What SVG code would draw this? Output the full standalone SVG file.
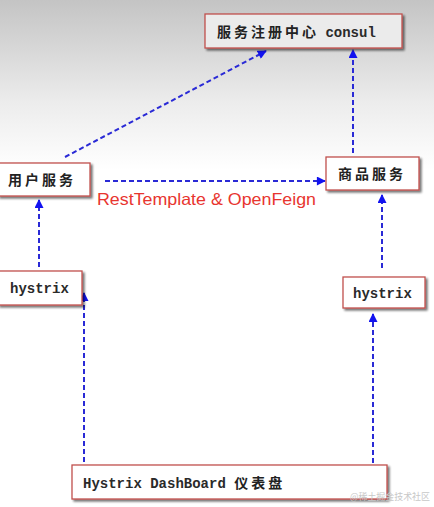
<svg xmlns="http://www.w3.org/2000/svg" width="434" height="507" viewBox="0 0 434 507">
<defs>
<linearGradient id="bg" x1="0" y1="0" x2="0" y2="1">
<stop offset="0" stop-color="#c4c4c4"/>
<stop offset="0.6" stop-color="#ececec"/>
<stop offset="1" stop-color="#ffffff"/>
</linearGradient>
<filter id="sh" x="-10%" y="-20%" width="130%" height="160%">
<feGaussianBlur in="SourceAlpha" stdDeviation="1.2"/>
<feOffset dx="2" dy="2" result="b"/>
<feComponentTransfer><feFuncA type="linear" slope="0.55"/></feComponentTransfer>
<feMerge><feMergeNode/><feMergeNode in="SourceGraphic"/></feMerge>
</filter>
<marker id="ah" viewBox="0 0 10 10" refX="9" refY="5" markerWidth="10" markerHeight="9" markerUnits="userSpaceOnUse" orient="auto">
<path d="M0,0 L10,5 L0,10 Z" fill="#1212f0"/>
</marker>
<style>
.box{fill:#ffffff;stroke:#c0504d;stroke-width:1.3;filter:url(#sh)}
.cn{font-family:"Noto Sans CJK SC",sans-serif;font-weight:bold;font-size:14px;fill:#222;letter-spacing:3px}
.mono{font-family:"Liberation Mono",monospace;font-weight:bold;font-size:14px;fill:#2a2a2a}
.ln{fill:none;stroke:#2a2ad6;stroke-width:2;stroke-dasharray:5 3;marker-end:url(#ah)}
</style>
</defs>
<rect x="0" y="0" width="434" height="170" fill="url(#bg)"/>
<rect x="0" y="170" width="434" height="337" fill="#ffffff"/>

<g id="connectors">
<line class="ln" x1="65" y1="157" x2="266" y2="51"/>
<line class="ln" x1="353" y1="153" x2="353" y2="50"/>
<line class="ln" x1="105" y1="181" x2="325" y2="181"/>
<line class="ln" x1="39" y1="267" x2="39" y2="200"/>
<line class="ln" x1="382" y1="268" x2="382" y2="195"/>
<line class="ln" x1="84" y1="462" x2="84" y2="293"/>
<line class="ln" x1="373" y1="463" x2="373" y2="314"/>
</g>

<g id="consul">
<rect class="box" x="205" y="14" width="197" height="34" style="fill:#ebebeb"/>
<text x="217" y="37"><tspan class="cn">服务注册中心</tspan><tspan class="mono" dx="-2"> consul</tspan></text>
</g>

<g id="user-service">
<rect class="box" x="-2" y="163" width="92" height="33"/>
<text class="cn" x="8" y="185">用户服务</text>
</g>

<g id="goods-service">
<rect class="box" x="326" y="157" width="93" height="33"/>
<text class="cn" x="338" y="179">商品服务</text>
</g>

<g id="hystrix-left">
<rect class="box" x="-2" y="271" width="84" height="34"/>
<text class="mono" x="10" y="293">hystrix</text>
</g>

<g id="hystrix-right">
<rect class="box" x="343" y="277" width="82" height="31"/>
<text class="mono" x="353" y="298">hystrix</text>
</g>

<g id="dashboard">
<rect class="box" x="72" y="465" width="315" height="34"/>
<text x="83" y="488"><tspan class="mono">Hystrix DashBoard </tspan><tspan class="cn">仪表盘</tspan></text>
</g>

<g id="label">
<text x="97" y="205" textLength="219" lengthAdjust="spacingAndGlyphs" font-family="Liberation Sans, Arial, sans-serif" font-size="16.5" fill="#e8352f" stroke="#ffffff" stroke-width="0.6" paint-order="stroke">RestTemplate &amp; OpenFeign</text>
</g>

<text x="350" y="500" textLength="80" lengthAdjust="spacingAndGlyphs" font-family="Noto Sans CJK SC, sans-serif" font-size="9.5" fill="#c8c8c8">@稀土掘金技术社区</text>
</svg>
